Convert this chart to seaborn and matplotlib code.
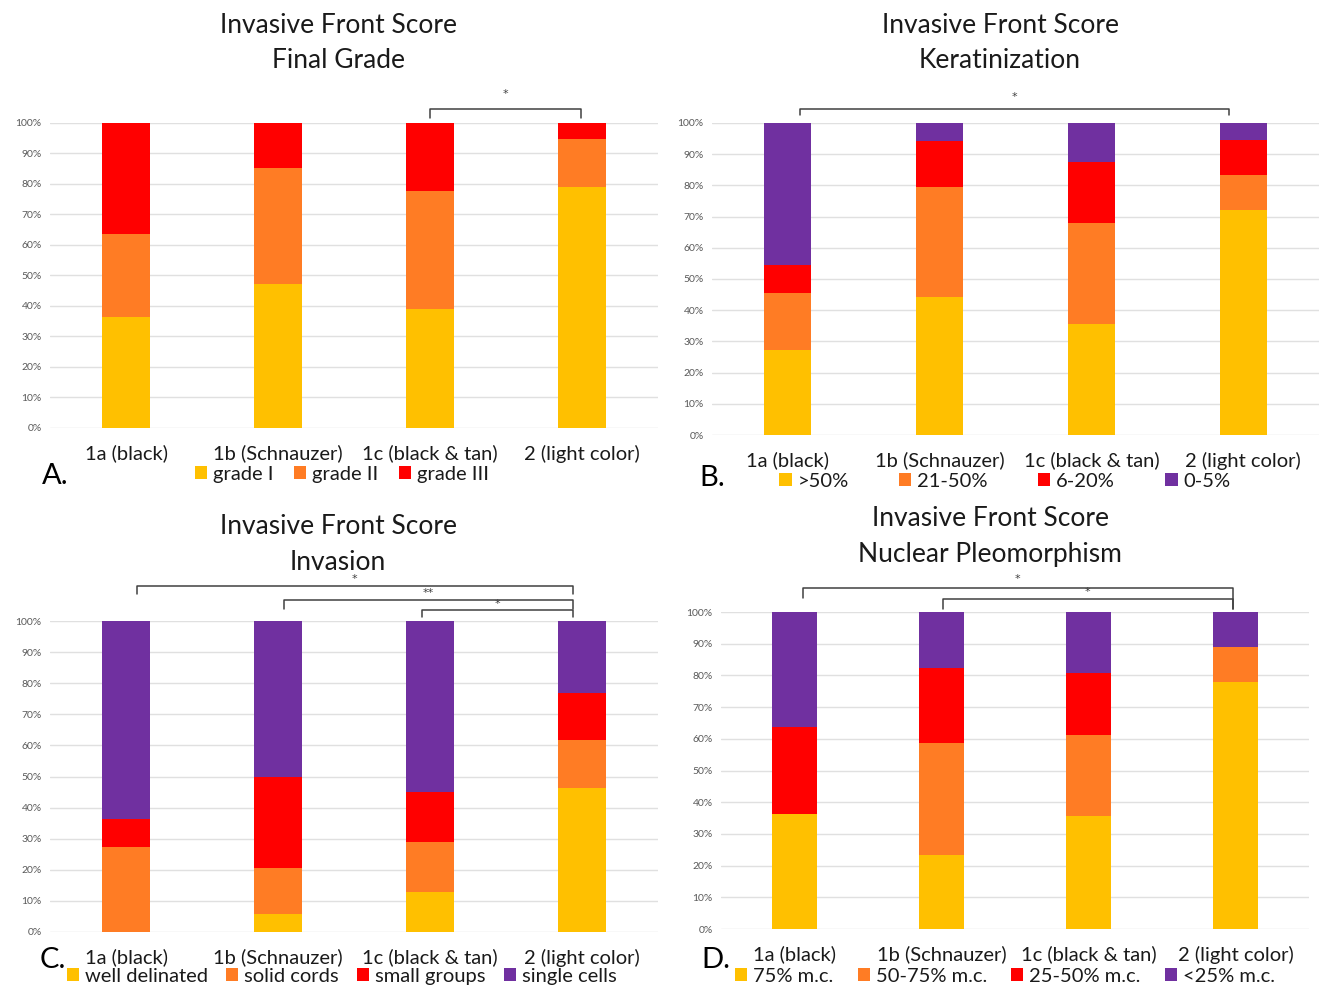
import numpy as np
import seaborn as sns
import matplotlib.pyplot as plt
from matplotlib.patches import Patch

# categories and colours shared by all four panels
breeds = ['1a (black)', '1b (Schnauzer)', '1c (black & tan)', '2 (light color)']
colors = ['#FFC000', '#FF7C24', '#FF0000', '#7030A0']

# A. final grade (% of cases per breed group)
grade_labels = ['grade I', 'grade II', 'grade III']
grade_i = [36.4, 47.1, 38.9, 78.9]
grade_ii = [27.2, 38.2, 38.9, 15.8]
grade_iii = [36.4, 14.7, 22.2, 5.3]

# B. keratinization
kerat_labels = ['>50%', '21-50%', '6-20%', '0-5%']
kerat_gt50 = [27.3, 44.1, 35.7, 72.2]
kerat_21_50 = [18.2, 35.3, 32.2, 11.1]
kerat_6_20 = [9.1, 14.7, 19.6, 11.1]
kerat_0_5 = [45.4, 5.9, 12.5, 5.6]

# C. invasion
inv_labels = ['well delinated', 'solid cords', 'small groups', 'single cells']
inv_well = [0.0, 5.9, 12.9, 46.2]
inv_cords = [27.3, 14.7, 16.1, 15.4]
inv_groups = [9.1, 29.4, 16.1, 15.4]
inv_single = [63.6, 50.0, 54.9, 23.0]

# D. nuclear pleomorphism
nuc_labels = ['75% m.c.', '50-75% m.c.', '25-50% m.c.', '<25% m.c.']
nuc_75 = [36.4, 23.5, 35.5, 77.8]
nuc_50_75 = [0.0, 35.3, 25.8, 11.1]
nuc_25_50 = [27.3, 23.5, 19.4, 0.0]
nuc_lt25 = [36.3, 17.7, 19.3, 11.1]

sns.set_theme(style='white')
plt.rcParams['font.family'] = ['Lato', 'DejaVu Sans']

fig = plt.figure(figsize=(13.23, 9.9), dpi=100)


def stacked_panel(rect, layers, labels, subtitle, title_pos, letter, letter_xy,
                  legend_xy, colspace, brackets):
    ax = fig.add_axes(rect)
    cum = np.cumsum(np.array(layers), axis=0)
    # draw cumulative totals back to front so the segments stack
    for k in range(len(layers) - 1, -1, -1):
        sns.barplot(x=breeds, y=cum[k], color=colors[k], width=0.31,
                    saturation=1, errorbar=None, linewidth=0, ax=ax, zorder=2)
    ax.set_xlim(-0.5, 3.5)
    ax.set_ylim(0, 100)
    ax.set_yticks(range(0, 101, 10))
    ax.set_yticklabels([f'{v}%' for v in range(0, 101, 10)],
                       fontsize=7.5, color='#595959')
    ax.set_xlabel('')
    ax.set_ylabel('')
    ax.tick_params(axis='both', length=0)
    ax.tick_params(axis='x', labelsize=14.5, pad=12, labelcolor='#1a1a1a')
    ax.tick_params(axis='y', pad=6)
    ax.yaxis.grid(True, color='#E0E0E0', lw=1)
    ax.set_axisbelow(True)
    for s in ax.spines.values():
        s.set_visible(False)

    fig.text(title_pos[0], title_pos[1], 'Invasive Front Score', ha='center',
             va='center', fontsize=19, color='#1a1a1a')
    fig.text(title_pos[0], title_pos[2], subtitle, ha='center', va='center',
             fontsize=19, color='#1a1a1a')
    fig.text(letter_xy[0], letter_xy[1], letter, ha='center', va='center',
             fontsize=21, color='black')

    handles = [Patch(facecolor=colors[i], edgecolor='none', label=lab)
               for i, lab in enumerate(labels)]
    fig.legend(handles=handles, loc='center', bbox_to_anchor=legend_xy,
               bbox_transform=fig.transFigure, ncol=len(labels), frameon=False,
               fontsize=14.5, handlelength=0.6, handleheight=0.6,
               handletextpad=0.3, columnspacing=colspace, borderpad=0,
               labelcolor='#1a1a1a')

    for x1, x2, lev, bot1, bot2, lab, sy in brackets:
        ax.plot([x1, x1, x2, x2], [bot1, lev, lev, bot2], color='#404040',
                lw=1.1, clip_on=False, zorder=3)
        ax.text((x1 + x2) / 2, sy, lab, ha='center', va='center',
                fontsize=8, color='#404040', clip_on=False,
                family='DejaVu Sans')
    return ax


stacked_panel([0.0378, 0.5677, 0.4596, 0.3081],
              [grade_i, grade_ii, grade_iii], grade_labels, 'Final Grade',
              (0.2555, 0.9747, 0.9384), 'A.', (0.0416, 0.5192),
              (0.2585, 0.5212), 1.0,
              [(2.0, 2.99, 104.7, 101.7, 101.7, '*', 109.6)])

stacked_panel([0.5382, 0.5606, 0.4588, 0.3152],
              [kerat_gt50, kerat_21_50, kerat_6_20, kerat_0_5], kerat_labels,
              'Keratinization', (0.7559, 0.9747, 0.9384), 'B.', (0.538, 0.517),
              (0.7597, 0.5141), 2.5,
              [(0.08, 2.91, 104.5, 102.5, 102.5, '*', 108.4)])

stacked_panel([0.0378, 0.0586, 0.4596, 0.3141],
              [inv_well, inv_cords, inv_groups, inv_single], inv_labels,
              'Invasion', (0.2555, 0.4677, 0.4323), 'C.', (0.040, 0.0303),
              (0.2585, 0.0141), 0.9,
              [(0.07, 2.94, 111.4, 108.6, 108.6, '*', 113.6),
               (1.04, 2.94, 106.9, 104.0, 104.0, '**', 109.1),
               (1.95, 2.94, 103.4, 101.3, 101.3, '*', 105.5)])

stacked_panel([0.5450, 0.0616, 0.4444, 0.3202],
              [nuc_75, nuc_50_75, nuc_25_50, nuc_lt25], nuc_labels,
              'Nuclear Pleomorphism', (0.7483, 0.4758, 0.4394), 'D.',
              (0.541, 0.0303), (0.7597, 0.0141), 1.2,
              [(0.06, 2.98, 107.7, 104.5, 101.0, '*', 110.3),
               (1.01, 2.98, 104.0, 101.0, 101.0, '*', 106.2)])

fig.savefig('out.png', dpi=100)
